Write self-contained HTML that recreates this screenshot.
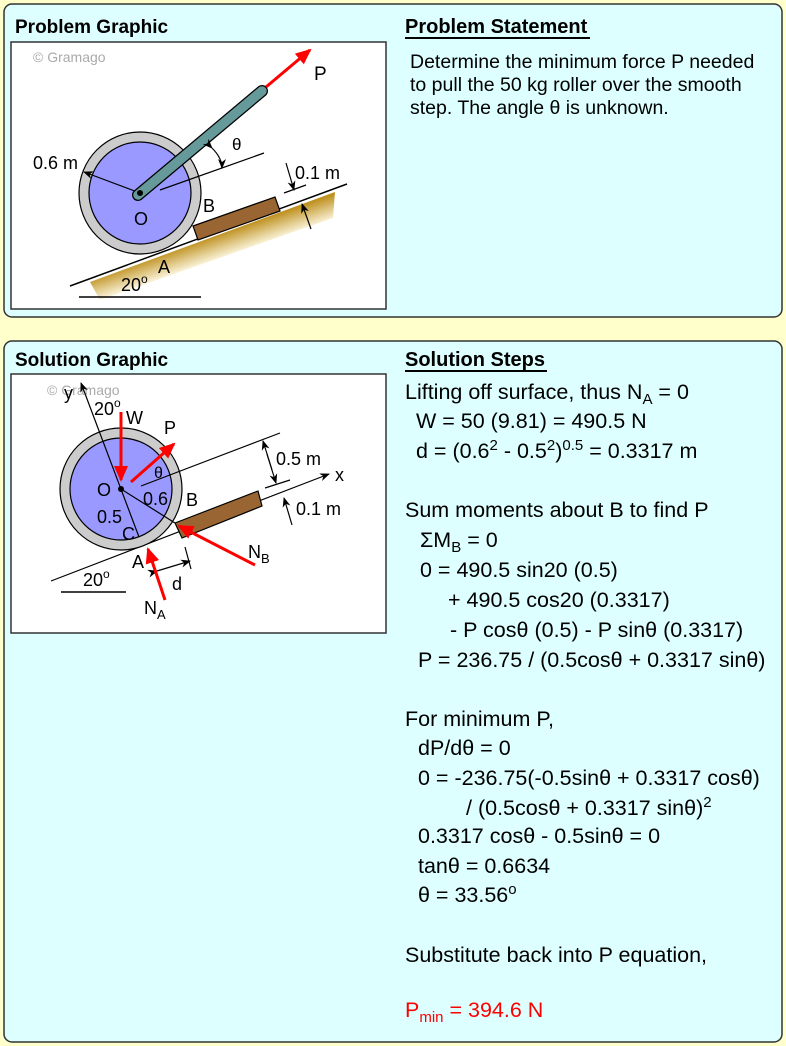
<!DOCTYPE html>
<html><head><meta charset="utf-8"><style>
html,body{margin:0;padding:0;background:#ffffcc;}
svg{display:block;font-family:"Liberation Sans",Arial,sans-serif;}
</style></head><body>
<svg width="786" height="1046" viewBox="0 0 786 1046" xmlns="http://www.w3.org/2000/svg">
<defs>
<linearGradient id="g" gradientUnits="userSpaceOnUse" x1="205" y1="236" x2="214" y2="262"><stop offset="0" stop-color="#b8860b"/><stop offset="1" stop-color="#fffbe8"/></linearGradient>
<marker id="ak" markerWidth="10" markerHeight="8" refX="9" refY="4" orient="auto" markerUnits="userSpaceOnUse"><path d="M0,0 L10,4 L0,8 L3,4 Z" fill="#000"/></marker>
<marker id="ar" markerWidth="16" markerHeight="14" refX="14" refY="7" orient="auto" markerUnits="userSpaceOnUse"><path d="M0,0 L16,7 L0,14 Z" fill="#f00"/></marker>
</defs>
<rect x="0" y="0" width="786" height="1046" fill="#ffffcc"/>
<rect x="4" y="4" width="778" height="313" rx="8" fill="#ddffff" stroke="#333" stroke-width="1.5"/>
<rect x="4" y="341" width="778" height="701" rx="8" fill="#ddffff" stroke="#333" stroke-width="1.5"/>
<text x="15" y="33" font-size="19" font-weight="bold">Problem Graphic</text>
<text x="405" y="33" font-size="20" font-weight="bold">Problem Statement</text>
<rect x="405" y="37" width="185" height="2" fill="#000"/>
<text font-size="19.5"><tspan x="410" y="68">Determine the minimum force P needed</tspan><tspan x="410" y="91">to pull the 50 kg roller over the smooth</tspan><tspan x="410" y="114">step. The angle θ is unknown.</tspan></text>
<text x="15" y="366" font-size="19" font-weight="bold">Solution Graphic</text>
<text x="405" y="366" font-size="20" font-weight="bold">Solution Steps</text>
<rect x="405" y="370" width="142" height="2" fill="#000"/>

<!-- problem image -->
<rect x="11" y="42" width="375" height="267" fill="#fff" stroke="#333" stroke-width="1.5"/>
<text x="33" y="62" font-size="14" fill="#aaa">© Gramago</text>
<polygon points="90,282 335,192 333,218 100,300" fill="url(#g)"/>
<line x1="70" y1="286" x2="347" y2="184" stroke="#000" stroke-width="1.5"/>
<line x1="79" y1="297" x2="201" y2="297" stroke="#000" stroke-width="1.5"/>
<polygon points="193,226 275,197 280,211 198,240" fill="#996633" stroke="#000" stroke-width="1.2"/>
<circle cx="140" cy="193" r="61" fill="#ccc" stroke="#000" stroke-width="1.2"/>
<circle cx="140" cy="193" r="51" fill="#9999ff" stroke="#000" stroke-width="1.2"/>
<line x1="140" y1="193" x2="84" y2="172" stroke="#000" stroke-width="1.2" marker-end="url(#ak)"/>
<line x1="160" y1="190" x2="264" y2="153" stroke="#000" stroke-width="1.2"/>
<line x1="138" y1="195" x2="262" y2="91" stroke="#000" stroke-width="12" stroke-linecap="round"/>
<line x1="138" y1="195" x2="262" y2="91" stroke="#669999" stroke-width="9.5" stroke-linecap="round"/>
<circle cx="140" cy="193" r="3" fill="#000"/>
<line x1="266" y1="87" x2="310" y2="50" stroke="#f00" stroke-width="3" marker-end="url(#ar)"/>
<text x="314" y="80" font-size="19">P</text>
<path d="M212,148 Q222,158 222,168" fill="none" stroke="#000" stroke-width="1.2" marker-start="url(#ak)" marker-end="url(#ak)"/>
<text x="232" y="150" font-size="17">θ</text>
<text x="33" y="169" font-size="18">0.6 m</text>
<text x="203" y="212" font-size="18">B</text>
<text x="134" y="225" font-size="18">O</text>
<text x="158" y="273" font-size="18">A</text>
<text x="121" y="291" font-size="18">20<tspan font-size="12" dy="-8">o</tspan></text>
<line x1="284" y1="193" x2="306" y2="185" stroke="#000" stroke-width="1.2"/>
<line x1="286" y1="163" x2="294" y2="190" stroke="#000" stroke-width="1.2" marker-end="url(#ak)"/>
<line x1="311" y1="229" x2="302" y2="204" stroke="#000" stroke-width="1.2" marker-end="url(#ak)"/>
<text x="295" y="179" font-size="18">0.1 m</text>

<!-- solution image -->
<rect x="11" y="374" width="375" height="259" fill="#fff" stroke="#333" stroke-width="1.5"/>
<text x="47" y="395" font-size="14" fill="#aaa">© Gramago</text>
<line x1="51" y1="581" x2="329" y2="474" stroke="#000" stroke-width="1.2" marker-end="url(#ak)"/>
<line x1="61" y1="592" x2="126" y2="592" stroke="#000" stroke-width="1.5"/>
<polygon points="175,523 258,491 262,506 182,538" fill="#996633" stroke="#000" stroke-width="1.2"/>
<circle cx="121" cy="489" r="61" fill="#ccc" stroke="#000" stroke-width="1.2"/>
<circle cx="121" cy="489" r="51" fill="#9999ff" stroke="#000" stroke-width="1.2"/>
<line x1="139" y1="537" x2="81" y2="383" stroke="#000" stroke-width="1.2" marker-end="url(#ak)"/>
<line x1="121" y1="489" x2="175" y2="523" stroke="#000" stroke-width="1.2"/>
<line x1="141" y1="486" x2="280" y2="433" stroke="#000" stroke-width="1.2"/>
<line x1="265" y1="488" x2="290" y2="480" stroke="#000" stroke-width="1.2"/>
<line x1="272" y1="470" x2="263" y2="441" stroke="#000" stroke-width="1.2" marker-end="url(#ak)"/>
<line x1="267" y1="454" x2="276" y2="483" stroke="#000" stroke-width="1.2" marker-end="url(#ak)"/>
<line x1="292" y1="525" x2="284" y2="498" stroke="#000" stroke-width="1.2" marker-end="url(#ak)"/>
<line x1="185" y1="547" x2="191" y2="569" stroke="#000" stroke-width="1.2"/>
<line x1="157" y1="571" x2="190" y2="561" stroke="#000" stroke-width="1.2" marker-start="url(#ak)" marker-end="url(#ak)"/>
<circle cx="121" cy="489" r="3" fill="#000"/>
<line x1="121" y1="412" x2="121" y2="480" stroke="#f00" stroke-width="3" marker-end="url(#ar)"/>
<line x1="131" y1="482" x2="174" y2="444" stroke="#f00" stroke-width="3" marker-end="url(#ar)"/>
<line x1="165" y1="600" x2="148" y2="549" stroke="#f00" stroke-width="3" marker-end="url(#ar)"/>
<line x1="255" y1="565" x2="179" y2="526" stroke="#f00" stroke-width="3" marker-end="url(#ar)"/>
<text x="64" y="399" font-size="18">y</text>
<text x="94" y="415" font-size="18">20<tspan font-size="12" dy="-8">o</tspan></text>
<text x="126" y="424" font-size="18">W</text>
<text x="164" y="434" font-size="18">P</text>
<text x="154" y="478" font-size="16">θ</text>
<text x="97" y="496" font-size="18">O</text>
<text x="143" y="505" font-size="18">0.6</text>
<text x="186" y="506" font-size="18">B</text>
<text x="97" y="523" font-size="18">0.5</text>
<text x="122" y="540" font-size="18">C</text>
<text x="132" y="568" font-size="18">A</text>
<text x="83" y="586" font-size="18">20<tspan font-size="12" dy="-8">o</tspan></text>
<text x="172" y="590" font-size="18">d</text>
<text x="144" y="614" font-size="18">N<tspan font-size="13" dy="5">A</tspan></text>
<text x="248" y="558" font-size="18">N<tspan font-size="13" dy="5">B</tspan></text>
<text x="276" y="465" font-size="18">0.5 m</text>
<text x="296" y="515" font-size="18">0.1 m</text>
<text x="335" y="481" font-size="18">x</text>

<!-- solution steps -->
<g font-size="21.5">
<text x="405" y="399">Lifting off surface, thus N<tspan font-size="15" dy="5">A</tspan><tspan dy="-5"> = 0</tspan></text>
<text x="416" y="428">W = 50 (9.81) = 490.5 N</text>
<text x="416" y="458">d = (0.6<tspan font-size="15" dy="-8">2</tspan><tspan dy="8"> - 0.5</tspan><tspan font-size="15" dy="-8">2</tspan><tspan dy="8">)</tspan><tspan font-size="15" dy="-8">0.5</tspan><tspan dy="8"> = 0.3317 m</tspan></text>
<text x="405" y="517">Sum moments about B to find P</text>
<text x="420" y="547">ΣM<tspan font-size="15" dy="5">B</tspan><tspan dy="-5"> = 0</tspan></text>
<text x="420" y="577">0 = 490.5 sin20 (0.5)</text>
<text x="448" y="607">+ 490.5 cos20 (0.3317)</text>
<text x="450" y="637">- P cosθ (0.5) - P sinθ (0.3317)</text>
<text x="418" y="667">P = 236.75 / (0.5cosθ + 0.3317 sinθ)</text>
<text x="405" y="726">For minimum P,</text>
<text x="418" y="755">dP/dθ = 0</text>
<text x="418" y="785">0 = -236.75(-0.5sinθ + 0.3317 cosθ)</text>
<text x="466" y="815">/ (0.5cosθ + 0.3317 sinθ)<tspan font-size="15" dy="-8">2</tspan></text>
<text x="418" y="843">0.3317 cosθ - 0.5sinθ = 0</text>
<text x="418" y="873">tanθ = 0.6634</text>
<text x="418" y="902">θ = 33.56<tspan font-size="15" dy="-8">o</tspan></text>
<text x="405" y="962">Substitute back into P equation,</text>
<text x="405" y="1017" fill="#f00">P<tspan font-size="15" dy="5">min</tspan><tspan dy="-5"> = 394.6 N</tspan></text>
</g>
</svg>
</body></html>
